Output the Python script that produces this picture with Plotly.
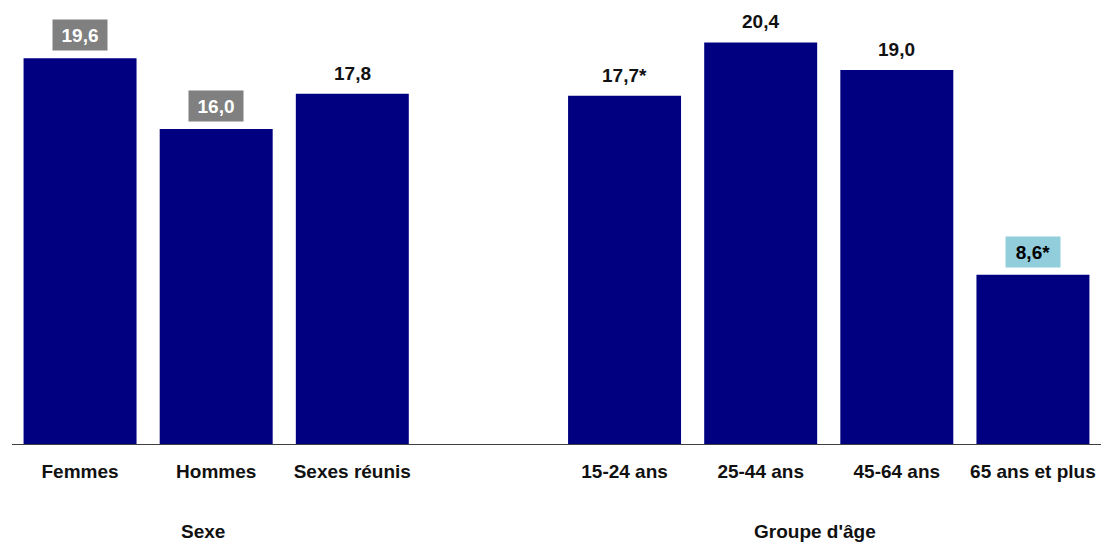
import plotly.graph_objects as go

# Data
sex_categories = ["Femmes", "Hommes", "Sexes réunis"]
sex_values = [19.6, 16.0, 17.8]
age_categories = ["15-24 ans", "25-44 ans", "45-64 ans", "65 ans et plus"]
age_values = [17.7, 20.4, 19.0, 8.6]
age_flags = ["*", "", "", "*"]
group_titles = ["Sexe", "Groupe d'âge"]

# Highlight boxes behind some value labels
label_boxes = {"Femmes": ("#808080", "white"),
               "Hommes": ("#808080", "white"),
               "65 ans et plus": ("#92CDDC", "black")}

# Slot positions: one empty slot separates the two groups
sex_pos = list(range(len(sex_categories)))
age_pos = [len(sex_categories) + 1 + i for i in range(len(age_categories))]

categories = sex_categories + age_categories
values = sex_values + age_values
positions = sex_pos + age_pos
flags = [""] * len(sex_categories) + age_flags

font_family = "Liberation Sans, Arial, sans-serif"
fsize = 19

fig = go.Figure()
fig.add_trace(go.Bar(
    x=positions, y=values,
    marker=dict(color="#000080", line=dict(width=0)),
    width=0.83,
    hoverinfo="skip",
))

for cat, pos, val, flag in zip(categories, positions, values, flags):
    text = f"<b>{val:.1f}".replace(".", ",") + f"{flag}</b>"
    bg, fg = label_boxes.get(cat, (None, "#111111"))
    ann = dict(x=pos, y=val, xref="x", yref="y", text=text,
               showarrow=False, yanchor="bottom",
               font=dict(family=font_family, size=fsize, color=fg))
    if bg:
        ann.update(bgcolor=bg, borderpad=3, width=48, height=24, yshift=7)
    else:
        ann.update(yshift=8)
    fig.add_annotation(**ann)

# Group titles under the category labels
for title, xc in zip(group_titles, [0.9, 5.4]):
    fig.add_annotation(x=xc, y=-0.202, xref="x", yref="paper", text=f"<b>{title}</b>",
                       showarrow=False, yanchor="middle",
                       font=dict(family=font_family, size=fsize, color="#111111"))

fig.update_layout(
    width=1109, height=542,
    margin=dict(l=12, r=8, t=11, b=98),
    plot_bgcolor="white", paper_bgcolor="white",
    showlegend=False,
    xaxis=dict(range=[-0.5, 7.5], tickvals=positions,
               ticktext=[f"<b>{c}</b>" for c in categories],
               tickfont=dict(family=font_family, size=fsize, color="#111111"),
               ticklabelstandoff=10,
               showline=True, linecolor="#404040", linewidth=1,
               showgrid=False, zeroline=False, ticks="", ticklen=0),
    yaxis=dict(range=[0, 22], visible=False, showgrid=False, zeroline=False),
)

fig.write_html("out.html")
